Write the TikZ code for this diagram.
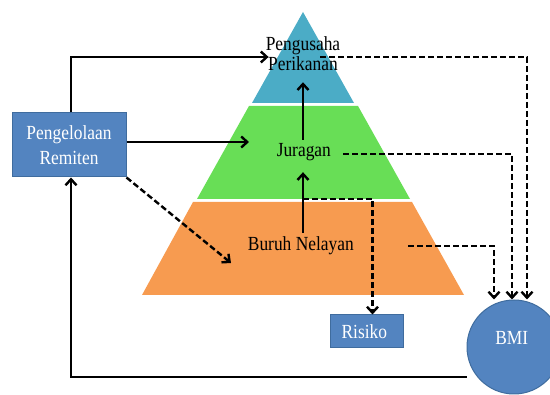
\documentclass[tikz,border=0pt]{standalone}
\usepackage{fontspec}
\setmainfont{Liberation Serif}[FakeStretch=0.87]
\usepackage{tikz}
\usetikzlibrary{positioning, arrows.meta}

\definecolor{boxblue}{HTML}{5384C0}
\definecolor{boxline}{HTML}{3F6C9E}
\definecolor{layertop}{HTML}{4BACC6}
\definecolor{layermid}{HTML}{68DE56}
\definecolor{layerlow}{HTML}{F79B50}

\begin{document}
\begin{tikzpicture}[x = 1pt, y = -1pt,
    every node/.style = { align = center, inner sep = 0pt, font = \fontsize{20}{20}\selectfont },
    lbl/.style = { text height = 14pt, text depth = 4pt },
    box/.style = { draw = boxline, fill = boxblue, text = white, line width = 1pt },
    bmicirc/.style = { box, circle, minimum size = 94pt, text height = 14pt, text depth = 18pt },
    conn/.style = { line width = 2.4pt, -{Straight Barb[length = 6pt, width = 11pt]} },
    dconn/.style = { conn, dash pattern = on 6pt off 3pt }]
      \useasboundingbox (0,0) rectangle (550,395);
      % pyramid layers
      \fill[layertop] (303,12) -- (354,103) -- (252,103) -- cycle;
      \fill[layermid] (249,106) -- (358,106) -- (410,199) -- (197,199) -- cycle;
      \fill[layerlow] (193,202) -- (412,202) -- (464,295) -- (142,295) -- cycle;

      \node (top) at (303,54) { Pengusaha \\ Perikanan };
      \node [lbl] (jur) at (306,152) { Juragan };
      \node [lbl] (buruh) at (303,246) { Buruh Nelayan };
      \node [box, minimum width = 114pt, minimum height = 64pt, font = \fontsize{20}{25}\selectfont]
        (remit) at (69,145) { Pengelolaan \\ Remiten };
      \node [box, lbl, text depth = 0pt, minimum width = 73pt, minimum height = 33pt] (risk) at (366.5,331.5) { Risiko };
      \node [bmicirc] (bmi) at (514,347) { BMI };

      \coordinate (jur-in) at (249,142);
      \coordinate (buruh-in) at (231,263);
      \coordinate (fork) at (303,199);

      % solid flows
      \draw[conn] ([yshift=4pt]buruh.north) -- ([yshift=-11pt]buruh.north |- jur.south);
      \draw[conn] ([yshift=3pt]buruh.north |- jur.north) -- ([yshift=-11pt]buruh.north |- top.south);
      \draw[conn] ([xshift=2pt]remit.north) |- ([shift={(3pt,-3pt)}]top.west);
      \draw[conn] ([yshift=3pt]remit.east) -- (jur-in);
      \draw[conn] ([yshift=-30pt]bmi.west) -| ([xshift=2pt]remit.south);

      % dashed flows
      \draw[dconn] (remit.south east) -- (buruh-in);
      \draw[dconn] ([shift={(17pt,-3pt)}]top.center) -| ([xshift=13pt]bmi.north);
      \draw[dconn] ([shift={(8pt,-2pt)}]jur.east) -| ([xshift=-2pt]bmi.north);
      \draw[dconn] ([xshift=50pt]buruh.east) -| ([xshift=-20pt]bmi.north);
      \draw[dconn] (fork) -| ([xshift=6pt]risk.north);
\end{tikzpicture}
\end{document}
